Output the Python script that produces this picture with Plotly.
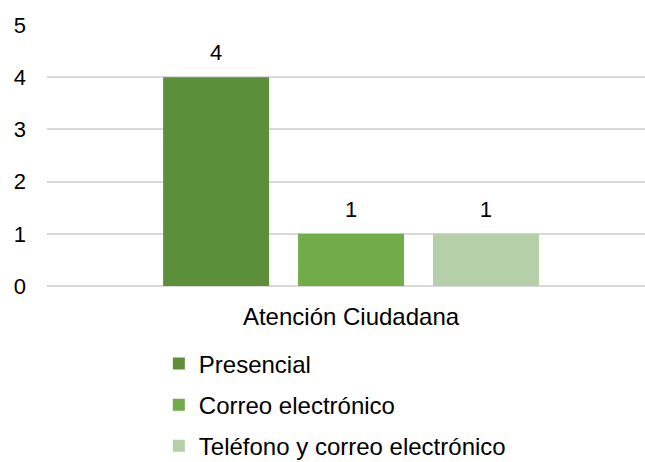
import plotly.graph_objects as go

categories = ["Atención Ciudadana"]
series_names = ["Presencial", "Correo electrónico", "Teléfono y correo electrónico"]
series_values = [[4], [1], [1]]
colors = ["#5b8f3a", "#72ac4a", "#b5cfa8"]
y_ticks = [0, 1, 2, 3, 4, 5]

fig = go.Figure()
for i, (name, vals) in enumerate(zip(series_names, series_values)):
    fig.add_trace(
        go.Bar(
            x=categories,
            y=vals,
            name=name,
            legendgroup=name,
            marker=dict(color=colors[i], line=dict(width=0)),
            # small second line lifts the label a bit above the bar, like the original
            text=[f"<span style='font-size:22px'>{v}</span><br> " for v in vals],
            textposition="outside",
            cliponaxis=False,
            textfont=dict(size=9, color="#000000"),
        )
    )

fig.update_layout(
    width=645,
    height=462,
    barmode="group",
    bargap=0.323,
    bargroupgap=0.215,
    plot_bgcolor="white",
    paper_bgcolor="white",
    font=dict(family="Liberation Sans, Arial, sans-serif", size=24, color="#000000"),
    margin=dict(l=47, r=0, t=25, b=176, autoexpand=False),
    showlegend=True,
    legend=dict(
        orientation="v",
        x=0.187,
        xanchor="left",
        y=-0.212,
        yanchor="top",
        tracegroupgap=7,
        font=dict(size=24),
    ),
    xaxis=dict(
        showgrid=False,
        showline=False,
        ticks="",
        ticklabelstandoff=14,
        range=[-0.5084, 0.4916],
    ),
    yaxis=dict(
        range=[0, 5],
        tickvals=y_ticks,
        showgrid=True,
        gridcolor="#d9d9d9",
        gridwidth=2,
        zeroline=True,
        zerolinecolor="#d9d9d9",
        zerolinewidth=2,
        ticks="",
        ticklabelstandoff=20,
        tickfont=dict(size=22),
    ),
)

fig.write_html(
    "out.html",
    config={"displayModeBar": False},
    post_script="document.body.style.margin='0';document.body.style.overflow='hidden';",
)
